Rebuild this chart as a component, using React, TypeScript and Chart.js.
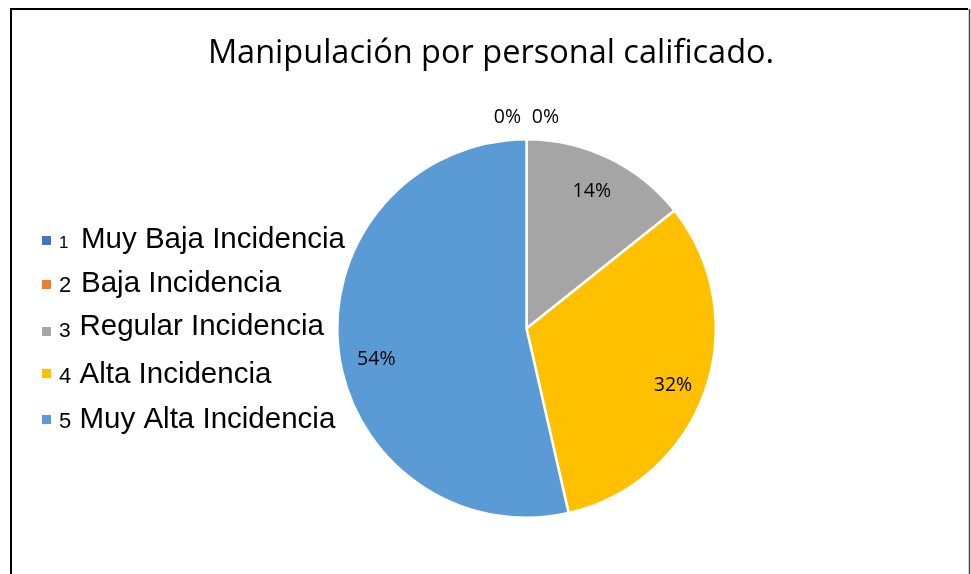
import React, { useEffect, useRef } from "react";
import { Chart, registerables } from "chart.js";

Chart.register(...registerables);

const TITLE = "Manipulación por personal calificado.";
const CATEGORY_NUMBERS = ["1", "2", "3", "4", "5"];
const CATEGORIES = [
  "Muy Baja Incidencia",
  "Baja Incidencia",
  "Regular Incidencia",
  "Alta Incidencia",
  "Muy Alta Incidencia",
];
const VALUES = [0, 0, 4, 9, 15];
const COLORS = ["#4472C4", "#ED7D31", "#A5A5A5", "#FFC000", "#5B9BD5"];

const W = 971;
const H = 574;

// layout-only constants for the hand-drawn legend & label nudges
const LEGEND_BASELINES = [248, 292, 335, 383, 428];
const LEGEND_SQUARE_TOPS = [236, 280, 327, 369, 415];
const LEGEND_NUM_SIZES = [17, 22, 21, 22, 22];
const LEGEND_NUM_DY = [0, 0, 1.5, 0, 0];
const LABEL_NUDGE = [
  [0, 0],
  [0, 0],
  [-2, 3],
  [0, 6],
  [4, 14],
];

const decorPlugin = {
  id: "decor",
  beforeDraw(chart: any) {
    const ctx = chart.ctx;
    ctx.save();
    ctx.fillStyle = "#ffffff";
    ctx.fillRect(0, 0, W, H);
    // frame
    ctx.strokeStyle = "#000000";
    ctx.lineWidth = 2;
    ctx.beginPath();
    ctx.moveTo(11, H + 2);
    ctx.lineTo(11, 9);
    ctx.lineTo(968, 9);
    ctx.stroke();
    ctx.strokeStyle = "#444444";
    ctx.lineWidth = 1.5;
    ctx.beginPath();
    ctx.moveTo(969.5, 9);
    ctx.lineTo(969.5, H + 2);
    ctx.stroke();
    // title
    ctx.fillStyle = "#000000";
    ctx.font = "32.5px 'Open Sans'";
    ctx.textAlign = "center";
    ctx.textBaseline = "middle";
    ctx.fillText(TITLE, 491, 54);
    // legend
    ctx.textAlign = "left";
    ctx.textBaseline = "alphabetic";
    CATEGORIES.forEach((c, i) => {
      const b = LEGEND_BASELINES[i];
      ctx.fillStyle = COLORS[i];
      ctx.fillRect(42, LEGEND_SQUARE_TOPS[i], 9, 9);
      ctx.fillStyle = "#000000";
      ctx.font = LEGEND_NUM_SIZES[i] + "px 'Liberation Sans'";
      ctx.fillText(CATEGORY_NUMBERS[i], 59, b + LEGEND_NUM_DY[i]);
      ctx.font = "29.5px 'Liberation Sans'";
      ctx.fillText(c, i < 2 ? 81 : 79.5, b);
    });
    ctx.restore();
  },
  afterDatasetsDraw(chart: any) {
    const ctx = chart.ctx;
    const meta = chart.getDatasetMeta(0);
    const data = chart.data.datasets[0].data as number[];
    const total = data.reduce((a, b) => a + b, 0);
    ctx.save();
    ctx.fillStyle = "#000000";
    ctx.font = "19.5px 'Open Sans'";
    ctx.textAlign = "center";
    ctx.textBaseline = "middle";
    let zeroIdx = 0;
    meta.data.forEach((arc: any, i: number) => {
      const v = data[i];
      const pct = Math.round((v / total) * 100) + "%";
      const { x, y, startAngle, endAngle, outerRadius } = arc.getProps(
        ["x", "y", "startAngle", "endAngle", "outerRadius"],
        true
      );
      const mid = (startAngle + endAngle) / 2;
      const [nx, ny] = LABEL_NUDGE[i];
      if (v === 0) {
        const r = outerRadius + 22;
        const off = zeroIdx === 0 ? -19 : 19;
        zeroIdx++;
        ctx.fillText(pct, x + Math.cos(mid) * r + off, y + Math.sin(mid) * r);
      } else {
        const r = outerRadius * 0.82;
        ctx.fillText(pct, x + Math.cos(mid) * r + nx, y + Math.sin(mid) * r + ny);
      }
    });
    ctx.restore();
  },
};

export default function App() {
  const ref = useRef<HTMLCanvasElement | null>(null);
  useEffect(() => {
    if (!ref.current) return;
    const chart = new Chart(ref.current, {
      type: "pie",
      data: {
        labels: CATEGORIES,
        datasets: [
          {
            data: VALUES,
            backgroundColor: COLORS,
            borderColor: "#ffffff",
            borderWidth: 2.5,
          },
        ],
      },
      options: {
        responsive: false,
        animation: false,
        layout: { padding: { left: 336, right: 254, top: 138, bottom: 55 } },
        plugins: {
          legend: { display: false },
          title: { display: false },
          tooltip: { enabled: false },
        },
      },
      plugins: [decorPlugin],
    });
    return () => chart.destroy();
  }, []);
  return (
    <div style={{ position: "fixed", left: 0, top: 0, width: W, height: H }}>
      <canvas ref={ref} width={W} height={H} style={{ width: W, height: H, display: "block" }} />
    </div>
  );
}
